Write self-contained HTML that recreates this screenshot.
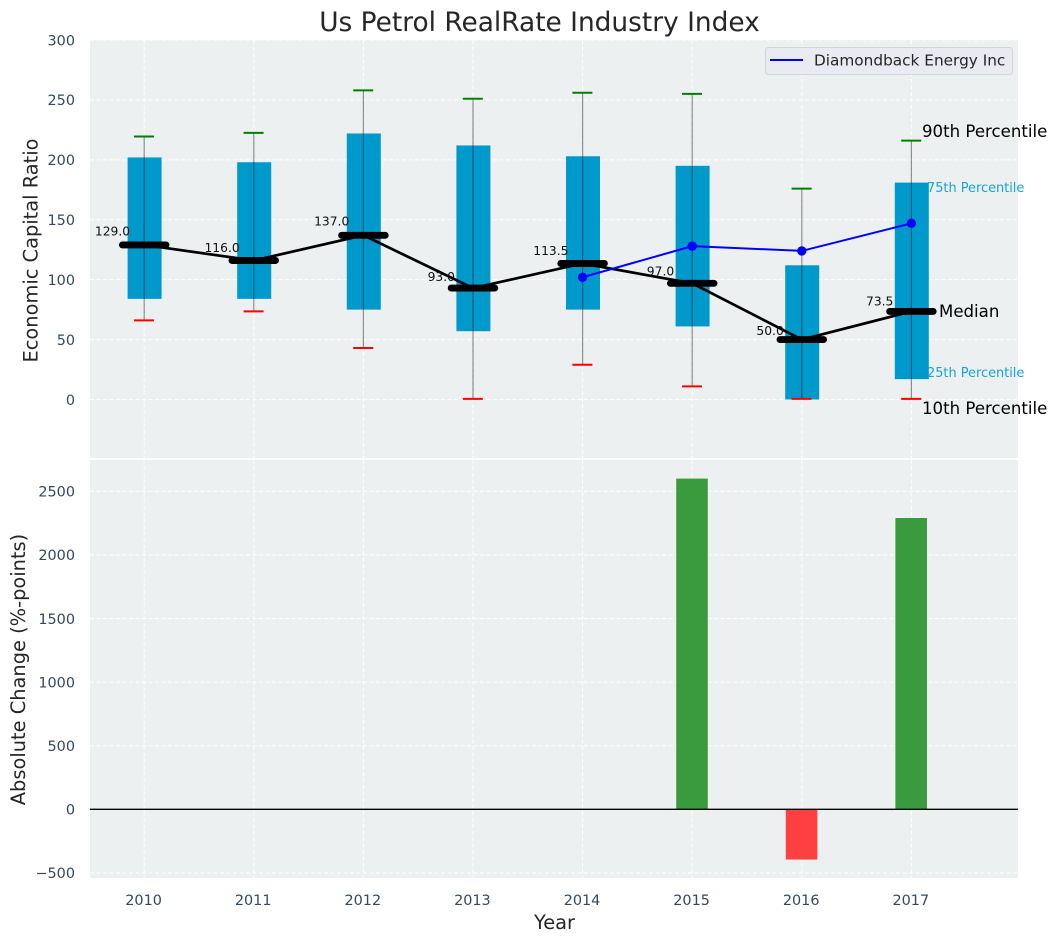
<!DOCTYPE html>
<html>
<head>
<meta charset="utf-8">
<title>Us Petrol RealRate Industry Index</title>
<style>
html,body{margin:0;padding:0;background:#fff;width:1057px;height:942px;overflow:hidden}
svg{display:block;font-family:"DejaVu Sans","Liberation Sans",sans-serif}
</style>
</head>
<body>
<svg id="chart" xmlns="http://www.w3.org/2000/svg" width="1057" height="942" viewBox="0 0 1057 942">
  <rect x="90" y="40" width="928" height="418" fill="#ecf0f1"/>
  <rect x="90" y="460" width="928" height="418" fill="#ecf0f1"/>
  <text x="539.5" y="31" text-anchor="middle" font-size="26.4px" fill="#262626">Us Petrol RealRate Industry Index</text>
  <text transform="translate(37.5 250.5) rotate(-90)" text-anchor="middle" font-size="19.4px" fill="#262626">Economic Capital Ratio</text>
  <text transform="translate(25 669.5) rotate(-90)" text-anchor="middle" font-size="19.4px" fill="#262626">Absolute Change (%-points)</text>
  <text x="554.5" y="929" text-anchor="middle" font-size="19.4px" fill="#262626">Year</text>
  <g id="grid"></g>
  <g id="ticks"></g>
  <g id="bars"></g>
  <g id="boxes"></g>
  <g id="lines"></g>
  <g id="labels"></g>
  <g>
    <rect x="765.5" y="47.5" width="247" height="27" rx="3" fill="#eaeaf2" fill-opacity="0.9" stroke="#d4d4d8" stroke-width="1"/>
    <line x1="770" y1="60" x2="803" y2="60" stroke="#0000ff" stroke-width="2"/>
    <text x="814" y="65.5" font-size="15.3px" fill="#262626">Diamondback Energy Inc</text>
  </g>
  <text x="922" y="137" font-size="16.6px" fill="#000">90th Percentile</text>
  <text x="927" y="192" font-size="12.9px" fill="#1ba3d1">75th Percentile</text>
  <text x="939" y="317" font-size="16.6px" fill="#000">Median</text>
  <text x="927" y="377" font-size="12.9px" fill="#1ba3d1">25th Percentile</text>
  <text x="922" y="414" font-size="16.6px" fill="#000">10th Percentile</text>
</svg>
<script>
const years = [2010, 2011, 2012, 2013, 2014, 2015, 2016, 2017];
const p90Values = [219.5, 222.5, 258, 251, 256, 255, 176, 216];
const p75Values = [202, 198, 222, 212, 203, 195, 112, 181];
const medianValues = [129, 116, 137, 93, 113.5, 97, 50, 73.5];
const p25Values = [84, 84, 75, 57, 75, 61, 0, 17];
const p10Values = [66, 73.5, 43, 0.5, 29, 11, 0.5, 0.5];
const diamondbackValues = [null, null, null, null, 102, 128, 124, 147];
const changeValues = [0, 0, 0, 0, 0, 2600, -395, 2290];
const topTicks = [0, 50, 100, 150, 200, 250, 300];
const bottomTicks = [-500, 0, 500, 1000, 1500, 2000, 2500];

const NS = 'http://www.w3.org/2000/svg';
function xPos(year) { return 144.2 + (year - 2010) * 109.6; }
function yTop(v) { return 399.5 - v * 1.1983; }
function yBottom(v) { return 809.3 - v * 0.1272; }
function make(parentId, tag, attrs, text) {
  const el = document.createElementNS(NS, tag);
  for (const k in attrs) el.setAttribute(k, attrs[k]);
  if (text !== undefined) el.textContent = text;
  document.getElementById(parentId).appendChild(el);
  return el;
}
const gridStyle = { stroke: '#ffffff', 'stroke-width': 1, 'stroke-dasharray': '4 2.5', 'stroke-opacity': 0.95 };
const tickFont = { 'font-size': '14.4px', fill: '#34495e' };

years.forEach(function (yr) {
  const x = xPos(yr);
  const gt = make('grid', 'line', Object.assign({ x1: x, x2: x, y1: 40, y2: 458 }, gridStyle));
  
  
  const gb = make('grid', 'line', Object.assign({ x1: x, x2: x, y1: 460, y2: 878 }, gridStyle));
  
  
  const t = make('ticks', 'text', Object.assign({ x: x - 0.6, y: 905, 'text-anchor': 'middle' }, tickFont), String(yr));
  
  
});
topTicks.forEach(function (v) {
  const y = yTop(v);
  const g = make('grid', 'line', Object.assign({ x1: 90, x2: 1018, y1: y, y2: y }, gridStyle));
  
  
  const t = make('ticks', 'text', Object.assign({ x: 75, y: y + 5.3, 'text-anchor': 'end' }, tickFont), String(v));
  
  
});
bottomTicks.forEach(function (v) {
  const y = yBottom(v);
  const g = make('grid', 'line', Object.assign({ x1: 90, x2: 1018, y1: y, y2: y }, gridStyle));
  
  
  const label = v < 0 ? '\u2212' + Math.abs(v) : String(v);
  const t = make('ticks', 'text', Object.assign({ x: 75, y: y + 5.3, 'text-anchor': 'end' }, tickFont), label);
  
  
});

changeValues.forEach(function (v, i) {
  if (v === 0) return;
  const x = xPos(years[i]);
  const y0 = yBottom(0), y1 = yBottom(v);
  const bar = make('bars', 'rect', {
    x: x - 16, width: 31.6,
    y: Math.min(y0, y1), height: Math.abs(y1 - y0),
    fill: v > 0 ? '#3a9b3e' : '#ff4040'
  });
  
  
});
const zero = make('bars', 'line', { x1: 90, x2: 1018, y1: yBottom(0), y2: yBottom(0), stroke: '#000', 'stroke-width': 1.4 });



years.forEach(function (yr, i) {
  const x = xPos(yr);
  const box = make('boxes', 'rect', {
    x: x - 16.6, width: 34,
    y: yTop(p75Values[i]), height: yTop(p25Values[i]) - yTop(p75Values[i]),
    fill: '#0099cc'
  });
  
  
  const w = make('boxes', 'line', { x1: x, x2: x, y1: yTop(p90Values[i]), y2: yTop(p10Values[i]), stroke: '#000', 'stroke-opacity': 0.42, 'stroke-width': 1.2 });
  
  
  const hi = make('boxes', 'line', { x1: x - 10.2, x2: x + 9.8, y1: yTop(p90Values[i]), y2: yTop(p90Values[i]), stroke: '#008000', 'stroke-width': 2 });
  
  
  const lo = make('boxes', 'line', { x1: x - 10.2, x2: x + 9.8, y1: yTop(p10Values[i]), y2: yTop(p10Values[i]), stroke: '#ff0000', 'stroke-width': 2 });
  
  
});

const medianPts = years.map(function (yr, i) { return xPos(yr) + ',' + yTop(medianValues[i]); }).join(' ');
const medLine = make('lines', 'polyline', { points: medianPts, fill: 'none', stroke: '#000', 'stroke-width': 2.7 });



const dbPts = [];
years.forEach(function (yr, i) {
  if (diamondbackValues[i] !== null) dbPts.push(xPos(yr) + ',' + yTop(diamondbackValues[i]));
});
const dbLine = make('lines', 'polyline', { points: dbPts.join(' '), fill: 'none', stroke: '#0000ff', 'stroke-width': 2 });


years.forEach(function (yr, i) {
  if (diamondbackValues[i] === null) return;
  const pt = make('lines', 'circle', { cx: xPos(yr), cy: yTop(diamondbackValues[i]), r: 4.7, fill: '#0000ff' });
  
  
});

years.forEach(function (yr, i) {
  const x = xPos(yr);
  const y = yTop(medianValues[i]);
  const m = make('lines', 'line', { x1: x - 21.8, x2: x + 21.8, y1: y, y2: y, stroke: '#000', 'stroke-width': 6.9, 'stroke-linecap': 'round' });
  
  
  const t = make('labels', 'text', { x: x - 31.7, y: yTop(medianValues[i] * 1.05 + 5.2) + 4.5, 'text-anchor': 'middle', 'font-size': '12.3px', fill: '#111' }, medianValues[i].toFixed(1));
  
  
});
</script>
</body>
</html>
